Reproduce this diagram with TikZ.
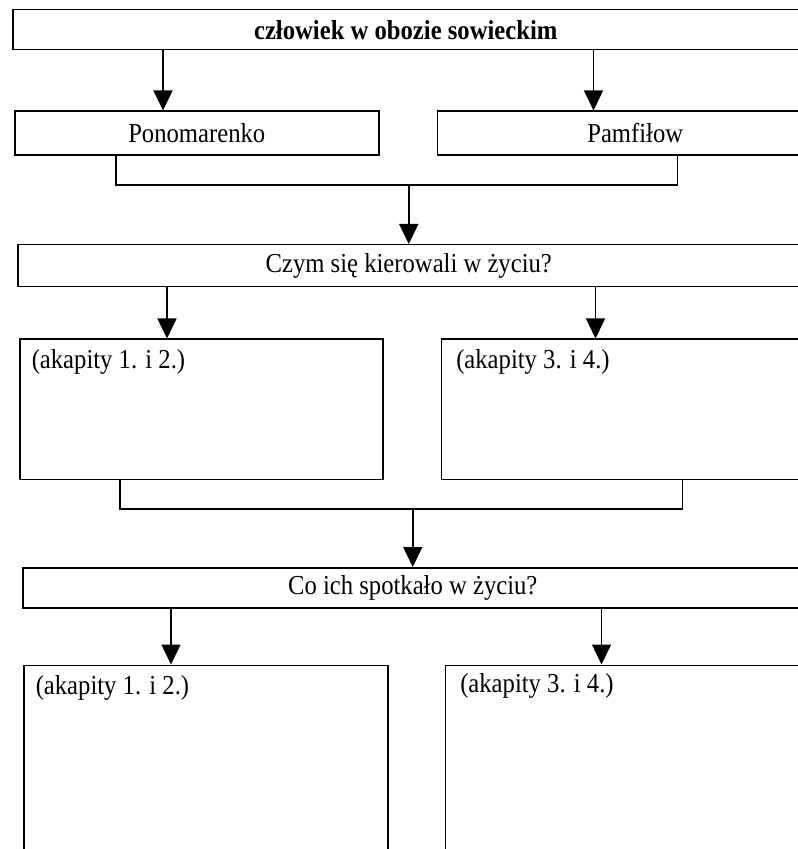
\documentclass[tikz,border=0pt]{standalone}
\usepackage{fontspec}
\setmainfont{Liberation Serif}[FakeStretch=0.9]
\usetikzlibrary{positioning,arrows.meta}

\begin{document}
\begin{tikzpicture}[x=1bp, y=1bp, line width=1.5bp,
    >={Triangle[width=19bp,length=20bp]},
    font=\fontsize{27.5}{32}\selectfont,
    box/.style={draw, inner sep=0bp},
    lbl/.style={anchor=north west, inner sep=0bp}]
    \useasboundingbox (0,0) rectangle (798,849);
    \node[box, anchor=north west, minimum width=786bp, minimum height=40bp] (O) at (12,840) {\bfseries człowiek w obozie sowieckim};
    \node[box, minimum width=364bp, minimum height=44bp, below right=60bp and 2bp of O.south west] (Po) {Ponomarenko};
    \node[box, minimum width=396bp, minimum height=44bp, right=57bp of Po.north east, anchor=north west] (Pa) {Pamfiłow};
    \node[box, minimum width=782bp, minimum height=42bp, below right=88bp and 3bp of Po.south west] (K) {Czym się kierowali w życiu?};
    \node[box, minimum width=363bp, minimum height=140bp, below right=51bp and 2bp of K.south west] (A1) {};
    \node[box, minimum width=400bp, minimum height=140bp, right=57bp of A1.north east, anchor=north west] (A2) {};
    \node[box, minimum width=780bp, minimum height=40bp, below right=87bp and 3bp of A1.south west] (S) {Co ich spotkało w życiu?};
    \node[box, minimum width=364bp, minimum height=188bp, below right=56bp and 1bp of S.south west] (B1) {};
    \node[box, minimum width=400bp, minimum height=188bp, right=56bp of B1.north east, anchor=north west] (B2) {};
    \node[lbl] (a1) at ([xshift=12bp, yshift=-10bp]A1.north west) {(akapity 1. i 2.)};
    \node[lbl] (a2) at ([xshift=15bp, yshift=-10bp]A2.north west) {(akapity 3. i 4.)};
    \node[lbl] (b1) at ([xshift=12bp, yshift=-10bp]B1.north west) {(akapity 1. i 2.)};
    \node[lbl] (b2) at ([xshift=15bp, yshift=-8bp]B2.north west) {(akapity 3. i 4.)};

    % arrow ends
    \coordinate (p1) at ([xshift=149bp]Po.north west);
    \coordinate (p2) at ([xshift=157bp]Pa.north west);
    \coordinate (k1) at ([xshift=148bp]A1.north west);
    \coordinate (k2) at ([xshift=155bp]A2.north west);
    \coordinate (s1) at ([xshift=148bp]B1.north west);
    \coordinate (s2) at ([xshift=157bp]B2.north west);
    \draw[->] (O.south -| p1) -- (p1);
    \draw[->] (O.south -| p2) -- (p2);
    \draw[->] (K.south -| k1) -- (k1);
    \draw[->] (K.south -| k2) -- (k2);
    \draw[->] (S.south -| s1) -- (s1);
    \draw[->] (S.south -| s2) -- (s2);

    % brackets
    \coordinate (j1) at ([yshift=-29bp]Po.south -| K.north);
    \coordinate (l1) at ([xshift=102bp]Po.south west);
    \coordinate (r1) at ([xshift=241bp]Pa.south west);
    \draw (l1) |- (j1) -| (r1);
    \draw[->] (j1) -- (K.north);
    \coordinate (j2) at ([yshift=-29bp]A1.south -| S.north);
    \coordinate (l2) at ([xshift=101bp]A1.south west);
    \coordinate (r2) at ([xshift=242bp]A2.south west);
    \draw (l2) |- (j2) -| (r2);
    \draw[->] (j2) -- (S.north);
\end{tikzpicture}
\end{document}
